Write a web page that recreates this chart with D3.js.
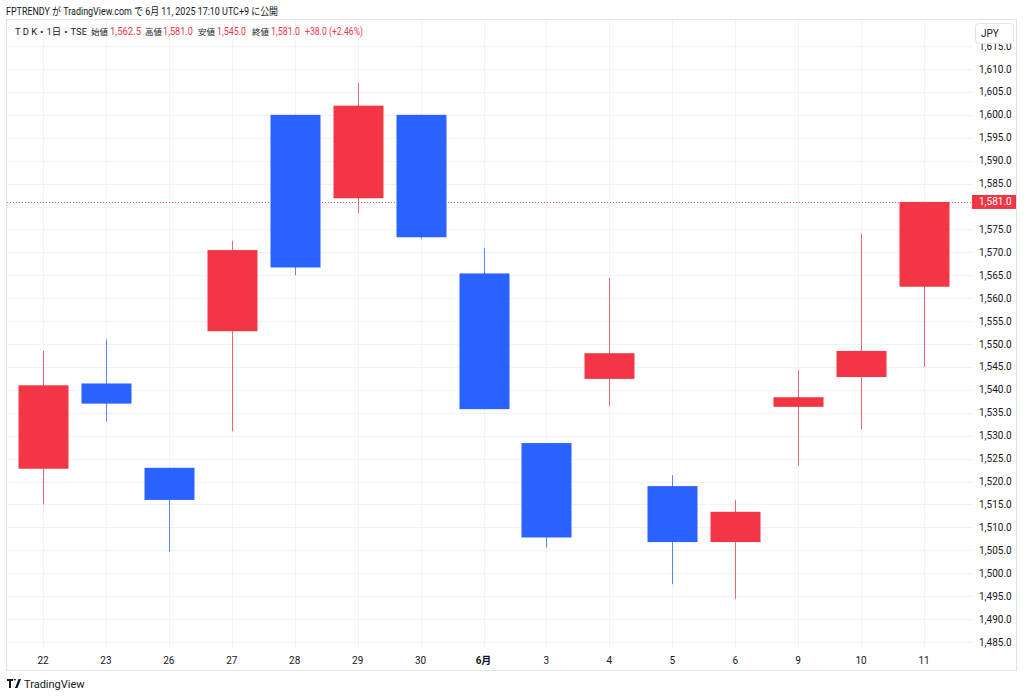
<!DOCTYPE html>
<html><head><meta charset="utf-8">
<script src="https://cdn.jsdelivr.net/npm/d3@7"></script>
<style>
html,body{margin:0;padding:0;background:#fff;}
svg{display:block;font-family:Roboto,"Noto Sans CJK JP",sans-serif;}
</style></head>
<body>
<svg id="c" width="1024" height="697"></svg>
<script>
// ---- data ----
const dates  = ["22","23","26","27","28","29","30","6月","3","4","5","6","9","10","11"];
const opens  = [1522.8,1541.4,1523.0,1552.8,1600.0,1581.8,1600.0,1565.4,1528.4,1542.4,1519.0,1506.8,1536.3,1542.8,1562.5];
const highs  = [1548.5,1551.0,1523.0,1572.5,1600.0,1607.0,1600.0,1571.0,1528.4,1564.4,1521.4,1516.0,1544.3,1574.0,1581.0];
const lows   = [1515.0,1533.1,1504.6,1531.0,1565.0,1578.5,1573.0,1535.8,1505.6,1536.5,1497.6,1494.4,1523.5,1531.4,1545.0];
const closes = [1541.0,1537.0,1516.0,1570.5,1566.7,1602.0,1573.3,1535.8,1507.8,1548.0,1506.8,1513.4,1538.4,1548.5,1581.0];
const priceTicks = d3.range(1485, 1616, 5);
const lastPrice = 1581.0;
const headerText = "FPTRENDY が TradingView.com で 6月 11, 2025 17:10 UTC+9 に公開";
const legendTexts = ["T D K・1日・TSE", "始値", "1,562.5", "高値", "1,581.0", "安値", "1,545.0", "終値", "1,581.0", "+38.0 (+2.46%)"];
const legendKinds = ["title", "lab", "val", "lab", "val", "lab", "val", "lab", "val", "val"];

// ---- layout ----
const legendX = [15, 91, 110, 145, 163, 198, 217, 252, 271, 305];
const legendW = [72, null, 31, null, 30, null, 29, null, 29, 58];
const legendF = [9.5, 8.5, 10, 8.5, 10, 8.5, 10, 8.5, 10, 10];
const UP = "#f23645", DOWN = "#2962ff";
const frame = {l: 6.5, t: 19.5, r: 1016.5, b: 670.5};
const plot = {l: 7, t: 20, r: 972, b: 648};
const svg = d3.select("#c");

const x = d3.scalePoint().domain(dates).range([43, 924]);
const bodyW = Math.round(x.step() * 0.79);
const y = d3.scaleLinear().domain([1485, 1610]).range([642, 69]);

// header
svg.append("text").attr("x", 6).attr("y", 15).attr("font-size", 10.5)
  .attr("textLength", 272).attr("lengthAdjust", "spacingAndGlyphs")
  .attr("fill", "#131722").text(headerText);

// frame
svg.append("rect").attr("x", frame.l).attr("y", frame.t)
  .attr("width", frame.r - frame.l).attr("height", frame.b - frame.t)
  .attr("fill", "none").attr("stroke", "#e0e3eb");

// grid
const g = svg.append("g");
g.selectAll("line.h").data(priceTicks).join("line")
  .attr("x1", plot.l).attr("x2", plot.r)
  .attr("y1", d => Math.round(y(d)) + 0.5).attr("y2", d => Math.round(y(d)) + 0.5)
  .attr("stroke", "#f0f3fa");
g.selectAll("line.v").data(dates).join("line")
  .attr("y1", plot.t).attr("y2", plot.b)
  .attr("x1", d => Math.round(x(d)) + 0.5).attr("x2", d => Math.round(x(d)) + 0.5)
  .attr("stroke", "#f0f3fa");

// last price dotted line
svg.append("line").attr("x1", plot.l).attr("x2", plot.r)
  .attr("y1", Math.round(y(lastPrice)) + 0.5).attr("y2", Math.round(y(lastPrice)) + 0.5)
  .attr("stroke", UP).attr("stroke-dasharray", "1,2").attr("opacity", 0.8);

// candles
const candles = dates.map((d, i) => ({d, o: opens[i], h: highs[i], l: lows[i], c: closes[i]}));
const cg = svg.append("g");
cg.selectAll("line.w").data(candles).join("line")
  .attr("x1", d => Math.round(x(d.d)) + 0.5).attr("x2", d => Math.round(x(d.d)) + 0.5)
  .attr("y1", d => y(d.h)).attr("y2", d => y(d.l))
  .attr("stroke", d => d.c >= d.o ? UP : DOWN).attr("stroke-opacity", 0.75);
cg.selectAll("rect.b").data(candles).join("rect")
  .attr("x", d => Math.round(x(d.d)) - bodyW / 2 + 0.5)
  .attr("width", bodyW)
  .attr("y", d => y(Math.max(d.o, d.c)))
  .attr("height", d => Math.max(1, y(Math.min(d.o, d.c)) - y(Math.max(d.o, d.c))))
  .attr("fill", d => d.c >= d.o ? UP : DOWN);

// price axis labels (hide the one under the last-price label)
svg.selectAll("text.p").data(priceTicks.filter(d => Math.abs(y(d) - y(lastPrice)) > 11)).join("text")
  .attr("x", 979).attr("y", d => y(d) + 3.5)
  .attr("font-size", 10).attr("fill", "#131722")
  .text(d => d3.format(",.1f")(d));

// JPY box
svg.append("rect").attr("x", 975.5).attr("y", 23.5).attr("width", 38).attr("height", 20)
  .attr("rx", 3).attr("fill", "#fff").attr("stroke", "#e0e3eb");
svg.append("text").attr("x", 981).attr("y", 37).attr("font-size", 10)
  .attr("fill", "#131722").text("JPY");

// last price label
svg.append("rect").attr("x", 972).attr("y", y(lastPrice) - 7).attr("width", 44).attr("height", 14)
  .attr("fill", UP);
svg.append("text").attr("x", 979).attr("y", y(lastPrice) + 3.5).attr("font-size", 10)
  .attr("fill", "#fff").text(d3.format(",.1f")(lastPrice));

// time axis labels
svg.selectAll("text.t").data(dates).join("text")
  .attr("x", d => x(d)).attr("y", 663.5).attr("text-anchor", "middle")
  .attr("font-size", 10).attr("fill", "#131722")
  .attr("font-weight", d => d.includes("月") ? 700 : 400)
  .text(d => d);

// legend
legendTexts.forEach((t, i) => {
  const tx = svg.append("text").attr("x", legendX[i]).attr("y", 35).attr("font-size", legendF[i])
    .attr("fill", legendKinds[i] === "val" ? UP : "#131722").text(t);
  if (legendW[i]) tx.attr("textLength", legendW[i]).attr("lengthAdjust", "spacingAndGlyphs");
});

// TradingView logo
const logo = svg.append("g").attr("transform", "translate(7,679)");
logo.append("path").attr("d", "M0 0h6v2h-2v7h-2v-7h-2z M6.5 0h2.5l-1 2z M8 9l3.5-9h2.5l-3.5 9z").attr("fill", "#131722");
svg.append("text").attr("x", 24).attr("y", 688).attr("font-size", 11)
  .attr("fill", "#131722").text("TradingView");
</script>
</body></html>
